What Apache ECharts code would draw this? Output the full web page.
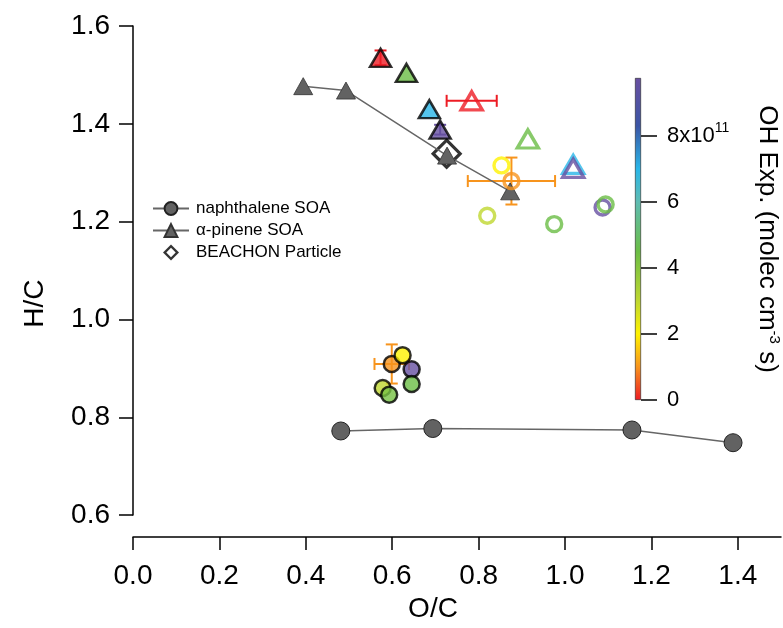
<!DOCTYPE html>
<html>
<head>
<meta charset="utf-8">
<script src="https://cdn.jsdelivr.net/npm/echarts@6/dist/echarts.min.js"></script>
<style>
html,body{margin:0;padding:0;background:#fff;}
#chart{width:783px;height:628px;}
</style>
</head>
<body>
<div id="chart"></div>
<script>
// ---- data ----
const naphX = [0.481, 0.694, 1.155, 1.389];
const naphY = [0.772, 0.777, 0.774, 0.748];
const pineneX = [0.394, 0.493, 0.727, 0.873];
const pineneY = [1.477, 1.468, 1.335, 1.262];
const beachonX = [0.726];
const beachonY = [1.339];
// OH exposure (x10^11 molec cm^-3 s)
const triFilledX = [0.573, 0.633, 0.686, 0.711];
const triFilledY = [1.535, 1.504, 1.430, 1.388];
const triFilledOH = [0, 4.5, 7.0, 9.7];
const triOpenX = [0.784, 0.914, 1.019, 1.019];
const triOpenY = [1.447, 1.369, 1.317, 1.309];
const triOpenOH = [0, 4.5, 7.0, 9.7];
const circFilledX = [0.599, 0.624, 0.645, 0.645, 0.578, 0.593];
const circFilledY = [0.909, 0.927, 0.898, 0.868, 0.860, 0.846];
const circFilledOH = [1.0, 2.0, 9.7, 4.5, 3.0, 4.3];
const circOpenX = [0.853, 0.876, 0.820, 0.975, 1.087, 1.094];
const circOpenY = [1.315, 1.283, 1.212, 1.195, 1.229, 1.235];
const circOpenOH = [2.0, 1.0, 3.0, 4.5, 9.7, 4.5];
// error bars: x, y, x-error, y-error, OH
const errX = [0.876, 0.784, 0.599, 0.573, 0.711];
const errY = [1.283, 1.447, 0.909, 1.535, 1.388];
const errXE = [0.101, 0.058, 0.040, 0.0, 0.0];
const errYE = [0.048, 0.0, 0.040, 0.015, 0.010];
const errOH = [1.0, 0, 1.0, 0, 9.7];
const xTicks = [0, 0.2, 0.4, 0.6, 0.8, 1.0, 1.2, 1.4];
const cbTicks = [0, 2, 4, 6, 8];
const cbMax = 9.75;
const legendNames = ['naphthalene SOA', 'α-pinene SOA', 'BEACHON Particle'];

// ---- colour map ----
const cmapStops = [[0,'#ed1c24'],[1,'#f7941d'],[2,'#fff200'],[3,'#bfd730'],[4.5,'#6abd45'],[6,'#5fbcb2'],[7,'#29b6e8'],[8.3,'#3b55a5'],[9.75,'#6950a1']];
function hex2rgb(h){return [parseInt(h.slice(1,3),16),parseInt(h.slice(3,5),16),parseInt(h.slice(5,7),16)];}
function cmap(v){
  if (v <= cmapStops[0][0]) return cmapStops[0][1];
  for (let i=1;i<cmapStops.length;i++){
    if (v <= cmapStops[i][0]){
      const a=cmapStops[i-1], b=cmapStops[i];
      const t=(v-a[0])/(b[0]-a[0]);
      const ca=hex2rgb(a[1]), cb=hex2rgb(b[1]);
      const c=ca.map((x,k)=>Math.round(x+(cb[k]-x)*t));
      return 'rgb('+c.join(',')+')';
    }
  }
  return cmapStops[cmapStops.length-1][1];
}

const FONT = 'Liberation Sans, Arial, Helvetica, sans-serif';
const zip = (xs, ys) => xs.map((x,i)=>[x, ys[i]]);

const chart = echarts.init(document.getElementById('chart'), null, {renderer:'canvas'});

const gradStops = cmapStops.map(s=>({offset:s[0]/cbMax, color:s[1]}));

const option = {
  backgroundColor: '#fff',
  animation: false,
  textStyle: {fontFamily: FONT},
  grid: [
    {left: 133, right: 2, top: 26, bottom: 108},
    {left: 635, width: 6, top: 78, height: 322}
  ],
  xAxis: [
    {
      type: 'value', gridIndex: 0, min: 0, max: 1.5, offset: 22,
      name: 'O/C', nameLocation: 'middle', nameGap: 50,
      nameTextStyle: {fontSize: 28, color: '#000', fontFamily: FONT, padding: [0, 48, 0, 0]},
      axisLine: {lineStyle: {color: '#000', width: 1.5}},
      axisTick: {show: true, inside: false, length: 13, lineStyle: {color: '#000', width: 1.5}, customValues: xTicks},
      axisLabel: {fontSize: 28, color: '#000', margin: 25, fontFamily: FONT, customValues: xTicks,
        formatter: v => v.toFixed(1)},
      splitLine: {show: false}
    },
    {
      type: 'category', gridIndex: 1, data: ['cb'], show: false
    }
  ],
  yAxis: [
    {
      type: 'value', gridIndex: 0, min: 0.6, max: 1.6, interval: 0.2,
      name: 'H/C', nameLocation: 'middle', nameGap: 84, nameRotate: 90,
      nameTextStyle: {fontSize: 28, color: '#000', fontFamily: FONT, padding: [0, 66, 0, 0]},
      axisLine: {show: true, lineStyle: {color: '#000', width: 1.5}},
      axisTick: {show: true, inside: false, length: 14, lineStyle: {color: '#000', width: 1.5}},
      axisLabel: {fontSize: 28, color: '#000', margin: 23, fontFamily: FONT, formatter: v => v.toFixed(1)},
      splitLine: {show: false}
    },
    {
      type: 'value', gridIndex: 1, min: 0, max: cbMax, position: 'right',
      name: '{a|OH Exp. (molec cm}{s|-3}{a| s)}', nameLocation: 'middle', nameRotate: -90, nameGap: 111,
      nameTextStyle: {color: '#000', fontFamily: FONT, rich: {
        a: {fontSize: 26, color: '#000', fontFamily: FONT},
        s: {fontSize: 15, color: '#000', fontFamily: FONT, padding: [0,0,15,0]}
      }},
      axisLine: {show: false},
      axisTick: {show: true, inside: false, length: 16, lineStyle: {color: '#000', width: 1.5}, customValues: cbTicks},
      axisLabel: {color: '#000', margin: 26, fontFamily: FONT, customValues: cbTicks,
        formatter: v => v === 8 ? '{a|8x10}{s|11}' : '{a|' + v + '}',
        rich: {
          a: {fontSize: 22, color: '#000', fontFamily: FONT},
          s: {fontSize: 14, color: '#000', fontFamily: FONT, padding: [0,0,16,0]}
        }},
      splitLine: {show: false}
    }
  ],
  legend: {
    orient: 'vertical', left: 147, top: 195, itemGap: 5, itemWidth: 36, itemHeight: 16,
    textStyle: {fontSize: 17, color: '#000', fontFamily: FONT, padding: [0, 0, 0, 2]},
    data: [
      legendNames[0], legendNames[1],
      {name: legendNames[2], icon: 'path://M7,-0.5L14.5,7L7,14.5L-0.5,7Z M7,2.6L2.6,7L7,11.4L11.4,7Z',
       itemStyle: {color: '#000', borderWidth: 0}}
    ]
  },
  series: [
    {
      name: legendNames[0], type: 'line', xAxisIndex: 0, yAxisIndex: 0,
      data: zip(naphX, naphY), symbol: 'circle', symbolSize: 18,
      lineStyle: {color: '#666', width: 1.5},
      itemStyle: {color: '#626262', borderColor: '#222', borderWidth: 1}
    },
    {
      name: legendNames[1], type: 'line', xAxisIndex: 0, yAxisIndex: 0,
      data: zip(pineneX, pineneY), symbol: 'triangle', symbolSize: [19, 17],
      lineStyle: {color: '#666', width: 1.5},
      itemStyle: {color: '#626262', borderColor: '#333', borderWidth: 0.8}
    },
    {
      name: legendNames[2], type: 'scatter', xAxisIndex: 0, yAxisIndex: 0,
      data: zip(beachonX, beachonY), symbol: 'diamond', symbolSize: [27, 27],
      itemStyle: {color: 'rgba(255,255,255,0)', borderColor: '#000', borderWidth: 3.2}
    },
    {
      type: 'custom', xAxisIndex: 0, yAxisIndex: 0,
      data: errX.map((x,i)=>[x, errY[i], errXE[i], errYE[i], errOH[i]]),
      renderItem: function(params, api){
        const x = api.value(0), y = api.value(1), xe = api.value(2), ye = api.value(3);
        const col = cmap(api.value(4));
        const cap = 6;
        const children = [];
        const st = {stroke: col, lineWidth: 2};
        if (xe > 0){
          const p1 = api.coord([x - xe, y]), p2 = api.coord([x + xe, y]);
          children.push({type:'line', shape:{x1:p1[0],y1:p1[1],x2:p2[0],y2:p2[1]}, style: st});
          children.push({type:'line', shape:{x1:p1[0],y1:p1[1]-cap,x2:p1[0],y2:p1[1]+cap}, style: st});
          children.push({type:'line', shape:{x1:p2[0],y1:p2[1]-cap,x2:p2[0],y2:p2[1]+cap}, style: st});
        }
        if (ye > 0){
          const p1 = api.coord([x, y - ye]), p2 = api.coord([x, y + ye]);
          children.push({type:'line', shape:{x1:p1[0],y1:p1[1],x2:p2[0],y2:p2[1]}, style: st});
          children.push({type:'line', shape:{x1:p1[0]-cap,y1:p1[1],x2:p1[0]+cap,y2:p1[1]}, style: st});
          children.push({type:'line', shape:{x1:p2[0]-cap,y1:p2[1],x2:p2[0]+cap,y2:p2[1]}, style: st});
        }
        return {type:'group', children: children};
      },
      silent: true, z: 3
    },
    {
      type: 'scatter', xAxisIndex: 0, yAxisIndex: 0, symbol: 'triangle', symbolSize: [21, 18], z: 4,
      data: triFilledX.map((x,i)=>({value:[x, triFilledY[i], triFilledOH[i]],
        itemStyle:{color: cmap(triFilledOH[i]), borderColor:'#000', borderWidth: 2.5}}))
    },
    {
      type: 'scatter', xAxisIndex: 0, yAxisIndex: 0, symbol: 'triangle', symbolSize: [21, 18], z: 4,
      data: triOpenX.map((x,i)=>({value:[x, triOpenY[i], triOpenOH[i]],
        itemStyle:{color: 'rgba(255,255,255,0)', borderColor: cmap(triOpenOH[i]), borderWidth: 3.4}}))
    },
    {
      type: 'scatter', xAxisIndex: 0, yAxisIndex: 0, symbol: 'circle', symbolSize: 16, z: 4,
      data: circFilledX.map((x,i)=>({value:[x, circFilledY[i], circFilledOH[i]],
        itemStyle:{color: cmap(circFilledOH[i]), borderColor:'#000', borderWidth: 2.5}}))
    },
    {
      type: 'scatter', xAxisIndex: 0, yAxisIndex: 0, symbol: 'circle', symbolSize: 15, z: 4,
      data: circOpenX.map((x,i)=>({value:[x, circOpenY[i], circOpenOH[i]],
        itemStyle:{color: 'rgba(255,255,255,0)', borderColor: cmap(circOpenOH[i]), borderWidth: 3.4}}))
    },
    {
      type: 'bar', xAxisIndex: 1, yAxisIndex: 1, data: [cbMax], barWidth: '100%', silent: true,
      itemStyle: {
        color: new echarts.graphic.LinearGradient(0, 1, 0, 0, gradStops),
        borderColor: '#222', borderWidth: 0.6
      }
    }
  ]
};
chart.setOption(option);
</script>
</body>
</html>
